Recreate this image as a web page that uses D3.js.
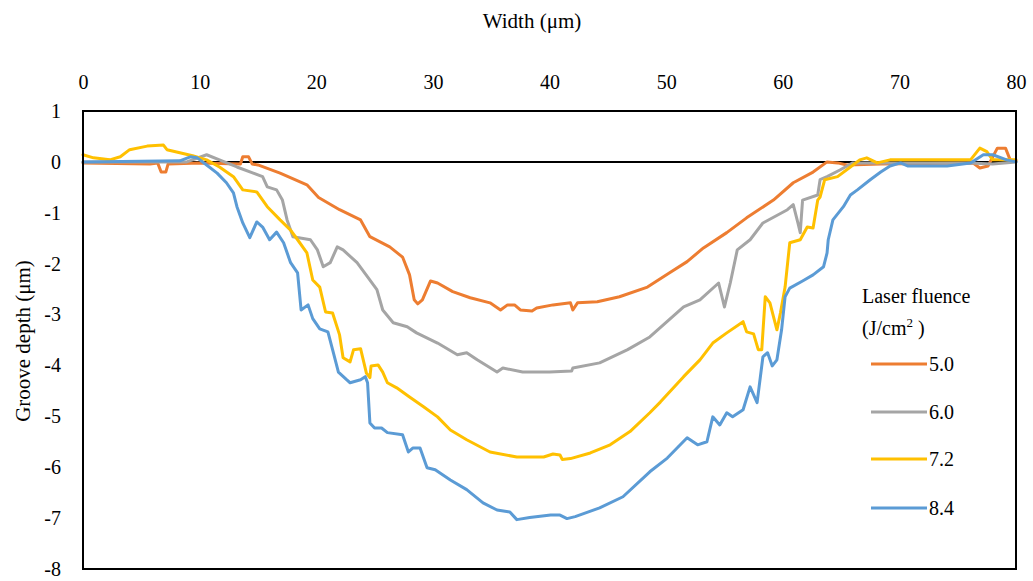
<!DOCTYPE html>
<html>
<head>
<meta charset="utf-8">
<script src="https://cdn.jsdelivr.net/npm/d3@7"></script>
<style>
  body { margin: 0; background: #fff; }
  svg, svg text { font-family: "Liberation Serif", Tinos, "Times New Roman", "DejaVu Serif", serif; fill: #000; }
</style>
</head>
<body>
<div id="chart"></div>
<script>
// groove profiles, [width µm, depth µm]
const fluence50 = [
  [0, -0.02], [5.75, -0.04], [6.4, -0.02], [6.7, -0.2], [7.1, -0.2], [7.3, -0.04], [10, -0.02],
  [13.5, -0.04], [13.7, 0.1], [14.2, 0.1], [14.5, -0.04], [15, -0.06], [16.9, -0.22], [19.2, -0.45],
  [20.2, -0.7], [22, -0.94], [23.8, -1.14], [24.6, -1.47], [26.3, -1.67], [27.4, -1.87], [28, -2.22],
  [28.4, -2.71], [28.7, -2.79], [29.1, -2.71], [29.8, -2.34], [30.4, -2.38], [31.7, -2.55],
  [33.2, -2.67], [34.9, -2.77], [35.8, -2.91], [36.4, -2.81], [37, -2.81], [37.5, -2.91],
  [38.5, -2.93], [38.9, -2.87], [40.3, -2.81], [41.8, -2.77], [42, -2.91], [42.4, -2.77],
  [44.1, -2.75], [46, -2.65], [48.4, -2.46], [50.3, -2.18], [51.8, -1.96], [53.2, -1.69],
  [55.2, -1.39], [56.9, -1.1], [59.2, -0.75], [60.9, -0.41], [62.6, -0.2], [63.8, 0], [64.7, -0.02],
  [65.5, -0.06], [68.4, -0.04], [76.3, -0.02], [76.9, -0.12], [77.6, -0.08], [78.4, 0.27],
  [79.1, 0.27], [79.5, 0.04], [80, 0.02]
];
const fluence60 = [
  [0, 0], [8.9, 0], [10.6, 0.14], [11.7, 0.04], [13.2, -0.1], [14.6, -0.22], [15.4, -0.29],
  [15.8, -0.49], [16.6, -0.55], [17.1, -0.75], [17.5, -1.14], [18, -1.47], [19.5, -1.53],
  [20.1, -1.73], [20.6, -2.06], [21.2, -1.98], [21.8, -1.67], [22.3, -1.73], [23.5, -1.98],
  [24.4, -2.26], [25.2, -2.51], [25.7, -2.91], [26.6, -3.16], [27.8, -3.24], [28.6, -3.36],
  [30.4, -3.56], [32.1, -3.79], [32.9, -3.75], [33.8, -3.89], [35.5, -4.13], [36, -4.05],
  [37.7, -4.13], [40, -4.13], [41.9, -4.11], [42, -4.05], [44.3, -3.95], [46.7, -3.69],
  [48.6, -3.44], [51.5, -2.85], [52.9, -2.71], [54.5, -2.38], [55, -2.85], [55.5, -2.38],
  [56.1, -1.73], [57.2, -1.53], [58.3, -1.2], [60.4, -0.94], [60.9, -0.84], [61.3, -1.2],
  [61.5, -1.39], [61.7, -0.75], [63, -0.65], [63.2, -0.35], [63.8, -0.29], [64.9, -0.16],
  [66, -0.02], [70, -0.02], [76, -0.02], [78, -0.04], [80, 0]
];
const fluence72 = [
  [0, 0.14], [0.9, 0.08], [2.3, 0.04], [3.2, 0.1], [4, 0.24], [5.5, 0.31], [6.9, 0.33], [7.2, 0.24],
  [8.3, 0.18], [9.4, 0.12], [10.6, 0.04], [11.7, -0.1], [12.9, -0.29], [13.7, -0.55], [14.9, -0.59],
  [15.8, -0.88], [16.9, -1.14], [17.8, -1.34], [18.4, -1.53], [19.2, -1.79], [19.7, -2.32],
  [20.3, -2.46], [20.8, -2.95], [21.4, -2.97], [22, -3.4], [22.3, -3.85], [22.9, -3.93],
  [23.2, -3.69], [23.8, -3.67], [24.3, -4.15], [24.6, -4.24], [24.7, -4.01], [25.3, -3.99],
  [25.7, -4.13], [26.1, -4.34], [26.9, -4.44], [28, -4.62], [29.2, -4.81], [30.4, -5.01],
  [31.5, -5.27], [32.9, -5.46], [34.9, -5.7], [37.2, -5.8], [39.5, -5.8], [40.3, -5.74],
  [40.9, -5.76], [41.1, -5.85], [41.8, -5.83], [43.5, -5.72], [45.2, -5.56], [46.9, -5.3],
  [48.6, -4.93], [49.5, -4.72], [51.5, -4.22], [52.9, -3.89], [54, -3.56], [55.2, -3.36],
  [56.6, -3.14], [56.9, -3.34], [57.5, -3.38], [57.9, -3.69], [58.2, -3.69], [58.5, -2.65],
  [58.9, -2.77], [59.5, -3.3], [59.8, -2.97], [60.2, -2.46], [60.6, -1.59], [61.5, -1.53],
  [62.1, -1.28], [62.6, -1.3], [63, -0.75], [63.2, -0.69], [63.6, -0.35], [64.7, -0.29],
  [65.8, -0.1], [66.6, 0.04], [67.2, 0.08], [68.1, -0.02], [69.2, 0.04], [76.1, 0.04],
  [76.9, 0.27], [77.5, 0.2], [78, 0.04], [80, 0.04]
];
const fluence84 = [
  [0, 0], [8.3, 0.02], [9.2, 0.1], [9.8, 0.08], [10.6, -0.06], [11.5, -0.22], [12.3, -0.41],
  [12.9, -0.61], [13.2, -0.88], [13.7, -1.2], [14.3, -1.49], [14.9, -1.18], [15.4, -1.28],
  [16, -1.53], [16.6, -1.38], [17.2, -1.59], [17.8, -1.98], [18.4, -2.18], [18.7, -2.91],
  [19.3, -2.81], [19.7, -3.08], [20.3, -3.28], [21, -3.34], [21.4, -3.69], [21.9, -4.13],
  [22.6, -4.28], [22.9, -4.34], [23.8, -4.28], [24.2, -4.22], [24.4, -4.34], [24.6, -5.13],
  [25, -5.23], [25.6, -5.23], [26.1, -5.32], [27.4, -5.36], [27.9, -5.7], [28.3, -5.62],
  [28.9, -5.62], [29.5, -6.01], [30.2, -6.05], [31.5, -6.25], [32.9, -6.44], [34.3, -6.7],
  [35.5, -6.84], [36.6, -6.88], [37.2, -7.03], [38.3, -6.99], [40.1, -6.94], [40.9, -6.94],
  [41.5, -7.01], [42.2, -6.97], [44.3, -6.8], [46.3, -6.58], [48.6, -6.09], [50.1, -5.82],
  [51.8, -5.42], [52.7, -5.56], [53.5, -5.5], [54, -5.01], [54.6, -5.17], [55.2, -4.93],
  [55.7, -5.01], [56.6, -4.87], [57.2, -4.42], [57.8, -4.73], [58.3, -3.83], [58.7, -3.75],
  [59.1, -4.01], [59.5, -3.89], [59.9, -3.3], [60.2, -2.65], [60.6, -2.48], [61.7, -2.34],
  [62.6, -2.22], [63.5, -2.06], [63.8, -1.79], [63.9, -1.53], [64.3, -1.14], [65.2, -0.88],
  [65.8, -0.65], [66.4, -0.55], [67.5, -0.35], [68.4, -0.2], [69.2, -0.08], [70.1, -0.02],
  [70.7, -0.08], [74.1, -0.08], [76.1, -0.02], [77.2, 0.14], [78, 0.14], [79.2, 0.04], [80, 0]
];

const seriesNames = ["5.0", "6.0", "7.2", "8.4"];
const seriesColors = ["#ED7D31", "#A5A5A5", "#FFC000", "#5B9BD5"];
const seriesData = [fluence50, fluence60, fluence72, fluence84];
const xTicks = [0, 10, 20, 30, 40, 50, 60, 70, 80];
const yTicks = [1, 0, -1, -2, -3, -4, -5, -6, -7, -8];

const fontFamily = "'Liberation Serif', Tinos, 'Times New Roman', 'DejaVu Serif', serif";
const width = 1033;
const height = 581;
const margin = { top: 111, right: 17, bottom: 12, left: 83 };
const innerWidth = width - margin.left - margin.right;
const innerHeight = height - margin.top - margin.bottom;

const svg = d3.select("#chart")
  .append("svg")
  .attr("width", width)
  .attr("height", height)
  .attr("font-family", fontFamily);

const chart = svg.append("g")
  .attr("transform", `translate(${margin.left},${margin.top})`);

const x = d3.scaleLinear().domain([0, 80]).range([0, innerWidth]);
const y = d3.scaleLinear().domain([-8, 1]).range([innerHeight, 0]);

// top axis labels, no tick marks
chart.append("g")
  .call(d3.axisTop(x).tickValues(xTicks).tickSize(0).tickPadding(22).tickFormat((d) => String(d)))
  .attr("font-family", fontFamily)
  .attr("font-size", 20)
  .call((g) => g.select(".domain").remove())
  .call((g) => g.selectAll("text").attr("fill", "#000"));

chart.append("g")
  .call(d3.axisLeft(y).tickValues(yTicks).tickSize(0).tickPadding(22).tickFormat((d) => String(d)))
  .attr("font-family", fontFamily)
  .attr("font-size", 20)
  .call((g) => g.select(".domain").remove())
  .call((g) => g.selectAll("text").attr("fill", "#000"));

// zero line
chart.append("line")
  .attr("x1", 0)
  .attr("x2", innerWidth)
  .attr("y1", y(0))
  .attr("y2", y(0))
  .attr("stroke", "#000")
  .attr("stroke-width", 2);

const line = d3.line()
  .x((d) => x(d[0]))
  .y((d) => y(d[1]));

seriesData.forEach((data, i) => {
  chart.append("path")
    .datum(data)
    .attr("d", line)
    .attr("fill", "none")
    .attr("stroke", seriesColors[i])
    .attr("stroke-width", 3)
    .attr("stroke-linejoin", "round")
    .attr("stroke-linecap", "round");
});

// plot frame
chart.append("rect")
  .attr("x", 0)
  .attr("y", 0)
  .attr("width", innerWidth)
  .attr("height", innerHeight)
  .attr("fill", "none")
  .attr("stroke", "#000")
  .attr("stroke-width", 2);

// axis titles
svg.append("text")
  .attr("x", 532)
  .attr("y", 28)
  .attr("text-anchor", "middle")
  .attr("font-size", 21)
  .text("Width (μm)");

svg.append("text")
  .attr("transform", "rotate(-90)")
  .attr("x", -341)
  .attr("y", 30)
  .attr("text-anchor", "middle")
  .attr("font-size", 21)
  .text("Groove depth (μm)");

// legend
const legend = svg.append("g").attr("transform", "translate(862,0)");

legend.append("text")
  .attr("x", 0)
  .attr("y", 303)
  .attr("font-size", 20)
  .text("Laser fluence");

const unit = legend.append("text")
  .attr("x", 0)
  .attr("y", 335)
  .attr("font-size", 20);
unit.append("tspan").text("(J/cm");
unit.append("tspan").attr("font-size", 13).attr("dy", -8).text("2");
unit.append("tspan").attr("dy", 8).text(" )");

const legendRowY = [364, 412, 459, 508];

seriesNames.forEach((name, i) => {
  legend.append("line")
    .attr("x1", 9)
    .attr("x2", 65)
    .attr("y1", legendRowY[i])
    .attr("y2", legendRowY[i])
    .attr("stroke", seriesColors[i])
    .attr("stroke-width", 3);
  legend.append("text")
    .attr("x", 67)
    .attr("y", legendRowY[i])
    .attr("dy", "0.35em")
    .attr("font-size", 20)
    .text(name);
});
</script>
</body>
</html>
